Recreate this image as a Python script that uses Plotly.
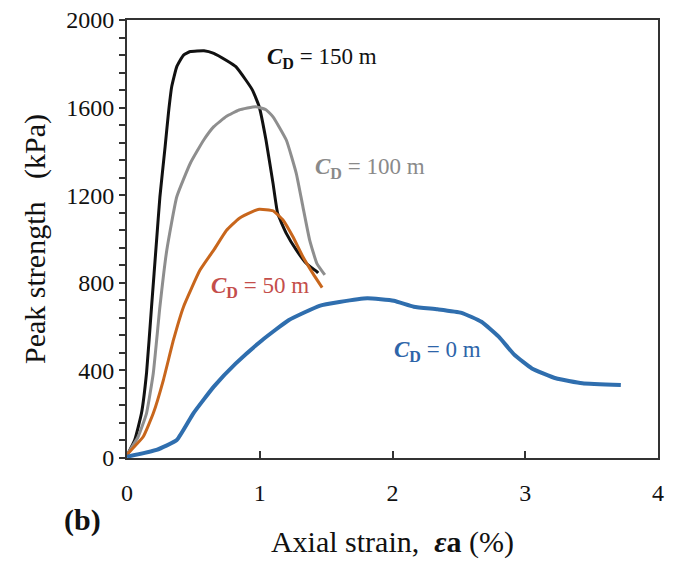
import plotly.graph_objects as go

# C_D = 150 m (black)
strain_150 = [0.008, 0.058, 0.109, 0.147, 0.185, 0.223, 0.248, 0.287, 0.312, 0.337, 0.375, 0.426, 0.477, 0.58,
              0.654, 0.75, 0.82, 0.895, 0.945, 0.996, 1.047, 1.10, 1.135, 1.20, 1.275, 1.35, 1.43, 1.44]
peak_150 = [21, 82, 204, 387, 691, 995, 1193, 1421, 1574, 1696, 1787, 1840, 1856, 1860,
            1848, 1815, 1787, 1726, 1680, 1604, 1452, 1254, 1117, 1026, 950, 889, 851, 845]

# C_D = 100 m (grey)
strain_100 = [0.0, 0.084, 0.147, 0.198, 0.248, 0.30, 0.375, 0.477, 0.578, 0.654, 0.75, 0.844, 0.97, 1.047,
              1.10, 1.20, 1.275, 1.325, 1.376, 1.43, 1.49]
peak_100 = [15, 97, 204, 387, 691, 950, 1193, 1346, 1452, 1513, 1560, 1589, 1604, 1590,
            1558, 1452, 1300, 1148, 995, 889, 836]

# C_D = 50 m (orange)
strain_50 = [0.0, 0.02, 0.122, 0.198, 0.274, 0.35, 0.426, 0.55, 0.654, 0.75, 0.844, 0.945, 0.996, 1.047,
             1.10, 1.175, 1.25, 1.325, 1.40, 1.47]
peak_50 = [15, 29, 97, 204, 356, 539, 691, 858, 950, 1040, 1094, 1125, 1136, 1134,
           1129, 1087, 1010, 919, 843, 778]

# C_D = 0 m (blue)
strain_0 = [0.0, 0.223, 0.375, 0.50, 0.654, 0.82, 1.02, 1.22, 1.45, 1.60, 1.81, 2.01, 2.16, 2.34,
            2.52, 2.67, 2.80, 2.92, 3.05, 3.23, 3.43, 3.72]
peak_0 = [6, 37, 82, 204, 326, 432, 539, 630, 695, 712, 729, 718, 691, 679,
          663, 622, 554, 470, 409, 364, 341, 333]

x_ticks = [0, 1, 2, 3, 4]
y_ticks = [0, 400, 800, 1200, 1600, 2000]

series = [
    (strain_150, peak_150, "#111111", 3),
    (strain_100, peak_100, "#8e8e8e", 3),
    (strain_50, peak_50, "#c8661c", 3),
    (strain_0, peak_0, "#2f6eae", 4),
]

fig = go.Figure()
for xs, ys, col, w in series:
    fig.add_trace(go.Scatter(x=xs, y=ys, mode="lines",
                             line=dict(color=col, width=w, shape="spline", smoothing=0.4),
                             showlegend=False, hoverinfo="skip"))

font_family = "Liberation Serif, Times New Roman, serif"

labels = [
    (1.47, 1826, "<b><i>C</i><sub>D</sub></b> = 150 m", "#111111"),
    (1.83, 1324, "<b><i>C</i><sub>D</sub></b> = 100 m", "#8a8a8a"),
    (1.00, 781, "<b><i>C</i><sub>D</sub></b> = 50 m", "#c44e4b"),
    (2.34, 489, "<b><i>C</i><sub>D</sub></b> = 0 m", "#2e65a9"),
]
for x, y, t, c in labels:
    fig.add_annotation(x=x, y=y, xref="x", yref="y", text=t, showarrow=False,
                       xanchor="center", yanchor="middle",
                       font=dict(family=font_family, size=23, color=c))

fig.add_annotation(x=-0.084, y=-0.142, xref="paper", yref="paper", text="<b>(b)</b>", showarrow=False,
                   xanchor="center", yanchor="middle",
                   font=dict(family=font_family, size=30, color="#111111"))

fig.update_layout(
    width=669, height=557,
    margin=dict(l=119, r=19, t=12, b=107),
    paper_bgcolor="white", plot_bgcolor="white",
    font=dict(family=font_family, size=24, color="#111111"),
    xaxis=dict(range=[0, 4], tickvals=x_ticks, ticks="inside", ticklen=7, tickwidth=2, tickcolor="#333333",
               showline=True, linecolor="#333333", linewidth=2, mirror=True, showgrid=False, zeroline=False,
               ticklabelstandoff=12, automargin=False, ticklabeloverflow="allow",
               title=dict(text="Axial strain,&nbsp;&nbsp;<b><i>ε</i>a</b> (%)", font=dict(size=30), standoff=26)),
    yaxis=dict(range=[0, 2000], tickvals=y_ticks, ticks="outside", ticklen=6, tickwidth=2, tickcolor="#333333",
               minor=dict(dtick=80, ticks="outside", ticklen=6, tickwidth=2, tickcolor="#333333"),
               showline=True, linecolor="#333333", linewidth=2, mirror=True, showgrid=False, zeroline=False,
               automargin=False, ticklabeloverflow="allow",
               title=dict(text="Peak strength&nbsp;&nbsp;&nbsp;(kPa)", font=dict(size=30), standoff=12)),
)

fig.write_html("out.html")
